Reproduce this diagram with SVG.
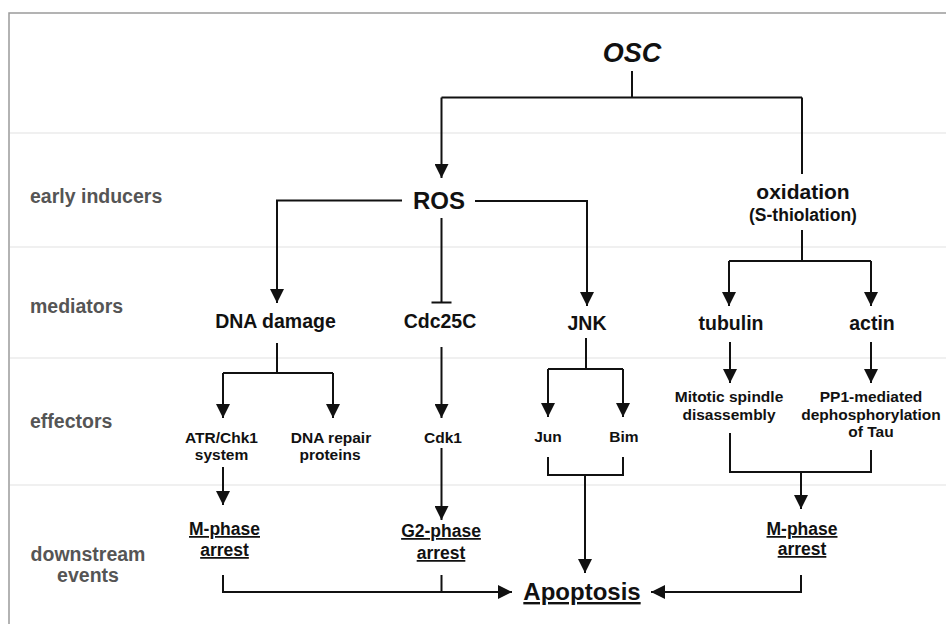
<svg xmlns="http://www.w3.org/2000/svg" width="946" height="624" viewBox="0 0 946 624">
<style>
text{font-family:"Liberation Sans",Arial,sans-serif;font-weight:bold;fill:#111;text-anchor:middle}
.lab{fill:#555;font-size:19.5px;text-anchor:start}
.m{font-size:19.5px}
.e{font-size:15.5px}
.d{font-size:17.5px;text-decoration:underline}
.sep{stroke:#ececec;stroke-width:1.5;fill:none}
.c{stroke:#111;stroke-width:2;fill:none}
.a{marker-end:url(#ah)}
</style>
<defs>
<marker id="ah" viewBox="0 0 14 14" refX="14" refY="7" markerWidth="14" markerHeight="14" markerUnits="userSpaceOnUse" orient="auto">
<path d="M0,0 L14,7 L0,14 z" fill="#111"/>
</marker>
</defs>
<rect x="0" y="0" width="946" height="624" fill="#fff"/>
<rect x="9" y="13" width="950" height="625" fill="none" stroke="#9a9a9a" stroke-width="1.5"/>
<g id="rows">
<path class="sep" d="M10,133H946M10,247H946M10,358H946M10,485H946"/>
<text class="lab" x="30" y="203">early inducers</text>
<text class="lab" x="30" y="313">mediators</text>
<text class="lab" x="30" y="428">effectors</text>
<text class="lab" x="88" y="561" style="text-anchor:middle">downstream</text>
<text class="lab" x="88" y="582" style="text-anchor:middle">events</text>
</g>
<g id="connectors">
<path class="c" d="M632,71V97.5M441.5,97.5H802M802,97.5V174"/>
<path class="c a" d="M441.5,97.5V178"/>
<path class="c a" d="M402,200.5H277V303"/>
<path class="c a" d="M475,201H587V306"/>
<path class="c" d="M441.5,218V302.5M431.5,302.5H451.5"/>
<path class="c" d="M802,230V261M729,261H871"/>
<path class="c a" d="M729,261V306"/>
<path class="c a" d="M871,261V306"/>
<path class="c" d="M277,343V373M223,373H333"/>
<path class="c a" d="M223,373V418"/>
<path class="c a" d="M333,373V418"/>
<path class="c a" d="M441.5,347V418"/>
<path class="c" d="M586,338V369M548,369H623"/>
<path class="c a" d="M548,369V417"/>
<path class="c a" d="M623,369V417"/>
<path class="c a" d="M730,342V383"/>
<path class="c a" d="M871,342V383"/>
<path class="c a" d="M223,467V505"/>
<path class="c a" d="M441.5,448V520"/>
<path class="c" d="M548,457V475H623V457"/>
<path class="c a" d="M585,475V573"/>
<path class="c" d="M730,433V472H871V450"/>
<path class="c a" d="M801,472V509"/>
<path class="c a" d="M223,575V592H512"/>
<path class="c" d="M441.5,575V592"/>
<path class="c a" d="M801,575V592H651"/>
</g>
<g id="osc"><text x="632" y="62" style="font-size:27px;font-style:italic">OSC</text></g>
<g id="ros"><text x="439" y="209" style="font-size:24px">ROS</text></g>
<g id="oxidation"><text x="803" y="199" style="font-size:21px">oxidation</text><text x="803" y="221" style="font-size:17.5px">(S-thiolation)</text></g>
<g id="dna-damage"><text class="m" x="275.5" y="328">DNA damage</text></g>
<g id="cdc25c"><text class="m" x="440" y="328">Cdc25C</text></g>
<g id="jnk"><text class="m" x="587" y="330">JNK</text></g>
<g id="tubulin"><text class="m" x="731" y="330">tubulin</text></g>
<g id="actin"><text class="m" x="872" y="330">actin</text></g>
<g id="atr"><text class="e" x="221.5" y="443">ATR/Chk1</text><text class="e" x="221.5" y="460">system</text></g>
<g id="dna-repair"><text class="e" x="331" y="443">DNA repair</text><text class="e" x="330" y="460">proteins</text></g>
<g id="cdk1"><text class="e" x="443" y="443">Cdk1</text></g>
<g id="jun"><text class="e" x="548" y="442">Jun</text></g>
<g id="bim"><text class="e" x="624" y="442">Bim</text></g>
<g id="mitotic"><text class="e" x="729" y="402">Mitotic spindle</text><text class="e" x="729" y="420">disassembly</text></g>
<g id="pp1"><text class="e" x="871" y="402">PP1-mediated</text><text class="e" x="871" y="420">dephosphorylation</text><text class="e" x="871" y="437">of Tau</text></g>
<g id="m-phase-1"><text class="d" x="224.5" y="535">M-phase</text><text class="d" x="224.5" y="556">arrest</text></g>
<g id="g2-phase"><text class="d" x="441" y="537">G2-phase</text><text class="d" x="441" y="559">arrest</text></g>
<g id="m-phase-2"><text class="d" x="802" y="535">M-phase</text><text class="d" x="802" y="555">arrest</text></g>
<g id="apoptosis"><text x="582" y="600" style="font-size:24px;text-decoration:underline">Apoptosis</text></g>
</svg>
